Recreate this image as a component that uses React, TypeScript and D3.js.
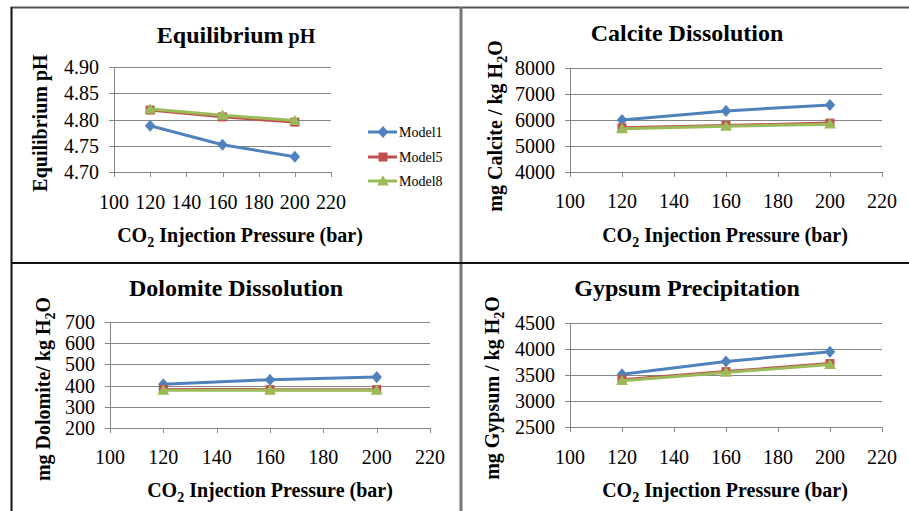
import { useEffect, useRef } from "react";
import * as d3 from "d3";

const PRESSURES = [120, 160, 200];
const MODELS = ["Model1", "Model5", "Model8"];

const PH_VALUES = [
  [4.788, 4.752, 4.729],
  [4.818, 4.805, 4.795],
  [4.82, 4.808, 4.798],
];
const CALCITE_VALUES = [
  [6000, 6350, 6580],
  [5700, 5790, 5880],
  [5660, 5760, 5840],
];
const DOLOMITE_VALUES = [
  [406, 428, 440],
  [382, 381, 381],
  [378, 378, 378],
];
const GYPSUM_VALUES = [
  [3515, 3760, 3948],
  [3410, 3565, 3720],
  [3390, 3550, 3700],
];

const X_TICKS = [100, 120, 140, 160, 180, 200, 220];

const COLORS = ["#4F81BD", "#C0504D", "#9BBB59"];
const GRID = "#868686";
const FONT = "'Liberation Serif', 'Times New Roman', serif";

type PanelSpec = {
  title: string;
  titleSmall?: string;
  yLabel: string;
  yLabelSub?: boolean;
  values: number[][];
  yDomain: [number, number];
  yStep: number;
  yFmt: (v: number) => string;
  plot: { left: number; right: number; top: number; bottom: number };
  titleX: number;
  titleY: number;
  yLabelX: number;
  yLabelY: number;
  xLabelX: number;
  xLabelY: number;
  xTickY: number;
  legend?: { x: number; y: number[] };
};

const PANELS: PanelSpec[] = [
  {
    title: "Equilibrium",
    titleSmall: "pH",
    yLabel: "Equilibrium pH",
    values: PH_VALUES,
    yDomain: [4.7, 4.9],
    yStep: 0.05,
    yFmt: d3.format(".2f"),
    plot: { left: 114, right: 331, top: 67, bottom: 172 },
    titleX: 236,
    titleY: 35,
    yLabelX: 40,
    yLabelY: 123,
    xLabelX: 240,
    xLabelY: 235,
    xTickY: 202,
    legend: { x: 368, y: [132, 157, 181] },
  },
  {
    title: "Calcite Dissolution",
    yLabel: "mg Calcite / kg H",
    yLabelSub: true,
    values: CALCITE_VALUES,
    yDomain: [4000, 8000],
    yStep: 1000,
    yFmt: d3.format("d"),
    plot: { left: 570, right: 882, top: 68, bottom: 172 },
    titleX: 687,
    titleY: 33,
    yLabelX: 495,
    yLabelY: 126,
    xLabelX: 725,
    xLabelY: 235,
    xTickY: 201,
  },
  {
    title: "Dolomite Dissolution",
    yLabel: "mg Dolomite/ kg H",
    yLabelSub: true,
    values: DOLOMITE_VALUES,
    yDomain: [200, 700],
    yStep: 100,
    yFmt: d3.format("d"),
    plot: { left: 110, right: 430, top: 322, bottom: 428 },
    titleX: 236,
    titleY: 288,
    yLabelX: 43,
    yLabelY: 389,
    xLabelX: 270,
    xLabelY: 490,
    xTickY: 457,
  },
  {
    title: "Gypsum Precipitation",
    yLabel: "mg Gypsum / kg H",
    yLabelSub: true,
    values: GYPSUM_VALUES,
    yDomain: [2500, 4500],
    yStep: 500,
    yFmt: d3.format("d"),
    plot: { left: 570, right: 882, top: 323, bottom: 427 },
    titleX: 687,
    titleY: 288,
    yLabelX: 492,
    yLabelY: 388,
    xLabelX: 725,
    xLabelY: 490,
    xTickY: 457,
  },
];

type Sel = d3.Selection<SVGGElement, unknown, null, undefined>;

function drawMarker(g: Sel, i: number, x: number, y: number) {
  if (i === 0) {
    const s = d3.symbol(d3.symbolDiamond2, 70)();
    g.append("path").attr("d", s).attr("transform", `translate(${x},${y}) scale(1,1.15)`).attr("fill", COLORS[0]);
  } else if (i === 1) {
    g.append("rect").attr("x", x - 4.5).attr("y", y - 4.5).attr("width", 9).attr("height", 9).attr("fill", COLORS[1]);
  } else {
    const s = d3.symbol(d3.symbolTriangle, 60)();
    g.append("path").attr("d", s).attr("transform", `translate(${x},${y + 1})`).attr("fill", COLORS[2]);
  }
}

function drawPanel(svg: d3.Selection<SVGSVGElement, unknown, null, undefined>, p: PanelSpec) {
  const g = svg.append("g");
  const x = d3.scaleLinear().domain([100, 220]).range([p.plot.left, p.plot.right]);
  const y = d3.scaleLinear().domain(p.yDomain).range([p.plot.bottom, p.plot.top]);
  const yTicks = d3.range(p.yDomain[0], p.yDomain[1] + p.yStep / 2, p.yStep);

  // horizontal gridlines + y tick labels
  yTicks.forEach((t) => {
    g.append("line")
      .attr("x1", p.plot.left - 5)
      .attr("x2", p.plot.right)
      .attr("y1", Math.round(y(t)) + 0.5)
      .attr("y2", Math.round(y(t)) + 0.5)
      .attr("stroke", GRID)
      .attr("stroke-width", 1);
    g.append("text")
      .attr("x", p.plot.left - 15)
      .attr("y", y(t))
      .attr("dy", "0.35em")
      .attr("text-anchor", "end")
      .attr("font-size", 20)
      .attr("font-family", FONT)
      .attr("fill", "#000")
      .text(p.yFmt(t));
  });
  // y axis line
  g.append("line")
    .attr("x1", p.plot.left + 0.5)
    .attr("x2", p.plot.left + 0.5)
    .attr("y1", p.plot.top)
    .attr("y2", p.plot.bottom + 5)
    .attr("stroke", GRID);
  // x ticks
  X_TICKS.forEach((t) => {
    g.append("line")
      .attr("x1", Math.round(x(t)) + 0.5)
      .attr("x2", Math.round(x(t)) + 0.5)
      .attr("y1", p.plot.bottom)
      .attr("y2", p.plot.bottom + 5)
      .attr("stroke", GRID);
    g.append("text")
      .attr("x", x(t))
      .attr("y", p.xTickY)
      .attr("dy", "0.35em")
      .attr("text-anchor", "middle")
      .attr("font-size", 20)
      .attr("font-family", FONT)
      .text(t);
  });

  // series
  const line = d3
    .line<number>()
    .x((_, i) => x(PRESSURES[i]))
    .y((d) => y(d));
  p.values.forEach((vals, i) => {
    g.append("path")
      .attr("d", line(vals)!)
      .attr("fill", "none")
      .attr("stroke", COLORS[i])
      .attr("stroke-width", 3)
      .attr("stroke-linejoin", "round");
    vals.forEach((v, j) => drawMarker(g, i, x(PRESSURES[j]), y(v)));
  });

  // title
  const title = g
    .append("text")
    .attr("x", p.titleX)
    .attr("y", p.titleY)
    .attr("dy", "0.35em")
    .attr("text-anchor", "middle")
    .attr("font-family", FONT)
    .attr("font-weight", "bold")
    .attr("font-size", 24);
  title.append("tspan").text(p.title);
  if (p.titleSmall) title.append("tspan").attr("font-size", 20).text(" " + p.titleSmall);

  // x label
  const xl = g
    .append("text")
    .attr("x", p.xLabelX)
    .attr("y", p.xLabelY)
    .attr("dy", "0.35em")
    .attr("text-anchor", "middle")
    .attr("font-family", FONT)
    .attr("font-weight", "bold")
    .attr("font-size", 20);
  xl.append("tspan").text("CO");
  xl.append("tspan").attr("font-size", 14).attr("dy", 5).text("2");
  xl.append("tspan").attr("dy", -5).text(" Injection Pressure (bar)");

  // y label
  const yl = g
    .append("text")
    .attr("transform", `translate(${p.yLabelX},${p.yLabelY}) rotate(-90)`)
    .attr("dy", "0.35em")
    .attr("text-anchor", "middle")
    .attr("font-family", FONT)
    .attr("font-weight", "bold")
    .attr("font-size", 20);
  yl.append("tspan").text(p.yLabel);
  if (p.yLabelSub) {
    yl.append("tspan").attr("font-size", 14).attr("dy", 5).text("2");
    yl.append("tspan").attr("dy", -5).text("O");
  }

  // legend
  if (p.legend) {
    MODELS.forEach((m, i) => {
      const ly = p.legend!.y[i];
      g.append("line")
        .attr("x1", p.legend!.x)
        .attr("x2", p.legend!.x + 29)
        .attr("y1", ly)
        .attr("y2", ly)
        .attr("stroke", COLORS[i])
        .attr("stroke-width", 3);
      drawMarker(g, i, p.legend!.x + 15, ly);
      g.append("text")
        .attr("x", p.legend!.x + 31)
        .attr("y", ly)
        .attr("dy", "0.35em")
        .attr("font-family", FONT)
        .attr("font-size", 14)
        .text(m);
    });
  }
}

function renderChart(el: SVGSVGElement | null) {
  if (!el) return;
  const svg = d3.select(el);
  svg.selectAll("*").remove();
  svg.append("rect").attr("width", 909).attr("height", 511).attr("fill", "#fff");

  // panel frame lines
  svg.append("line").attr("x1", 11).attr("x2", 909).attr("y1", 7.5).attr("y2", 7.5).attr("stroke", "#555").attr("stroke-width", 2);
  svg.append("line").attr("x1", 11.5).attr("x2", 11.5).attr("y1", 7).attr("y2", 511).attr("stroke", "#111").attr("stroke-width", 2);
  svg.append("line").attr("x1", 461).attr("x2", 461).attr("y1", 7).attr("y2", 511).attr("stroke", "#777").attr("stroke-width", 3);
  svg.append("line").attr("x1", 11).attr("x2", 909).attr("y1", 263).attr("y2", 263).attr("stroke", "#111").attr("stroke-width", 2);

  PANELS.forEach((p) => drawPanel(svg, p));
}

export default function App() {
  const ref = useRef<SVGSVGElement>(null);
  useEffect(() => {
    renderChart(ref.current);
  }, []);
  return (
    <svg
      ref={ref}
      width={909}
      height={511}
      style={{ position: "absolute", left: 0, top: 0, display: "block" }}
    />
  );
}
